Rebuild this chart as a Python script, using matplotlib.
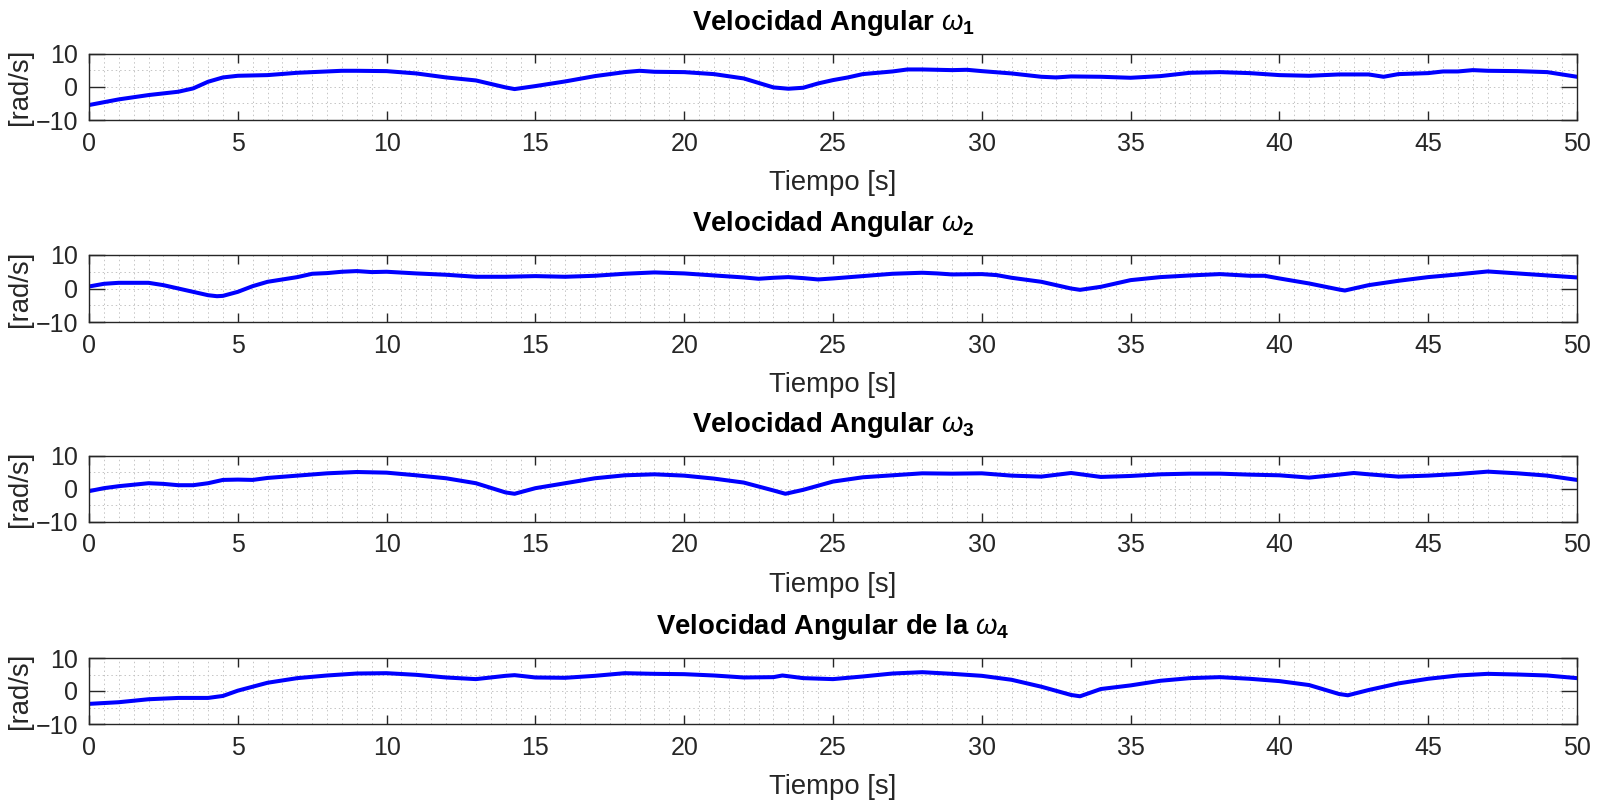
import numpy as np
import matplotlib
matplotlib.use("Agg")
import matplotlib.pyplot as plt
from matplotlib.ticker import MultipleLocator, FixedLocator

plt.rcParams['font.family'] = ['Liberation Sans', 'DejaVu Sans']
plt.rcParams['mathtext.fontset'] = 'custom'
plt.rcParams['mathtext.rm'] = 'Liberation Sans'
plt.rcParams['mathtext.it'] = 'Liberation Sans:italic'
plt.rcParams['mathtext.bf'] = 'Liberation Sans:bold'

# ---------------- data ----------------
t1 = [0, 1, 2, 3, 3.5, 4, 4.5, 5, 6, 7, 8, 8.5, 9, 10, 11, 11.5, 12, 13, 14, 14.3, 15, 16, 17, 18,
      18.5, 19, 20, 21, 22, 23, 23.5, 24, 24.5, 25, 25.5, 26, 26.5, 27, 27.5, 28, 29, 29.5, 30, 31,
      32, 32.5, 33, 34, 35, 36, 37, 38, 39, 40, 41, 42, 43, 43.5, 44, 45, 45.5, 46, 46.5, 47, 48, 49, 50]
w1 = [-5.5, -3.8, -2.5, -1.5, -0.5, 1.5, 2.8, 3.3, 3.5, 4.2, 4.6, 4.8, 4.8, 4.7, 4.0, 3.4, 2.8, 1.9, -0.2, -0.7, 0.2, 1.6, 3.2, 4.4,
      4.8, 4.5, 4.4, 3.8, 2.5, -0.2, -0.6, -0.3, 1.0, 2.0, 2.8, 3.8, 4.2, 4.6, 5.2, 5.2, 5.0, 5.1, 4.7, 4.0,
      3.0, 2.8, 3.1, 3.0, 2.7, 3.2, 4.2, 4.4, 4.1, 3.5, 3.3, 3.7, 3.7, 3.0, 3.8, 4.1, 4.6, 4.6, 5.0, 4.8, 4.7, 4.4, 3.0]

t2 = [0, 0.5, 1, 2, 2.5, 3, 3.5, 4, 4.3, 4.5, 5, 5.5, 6, 7, 7.5, 8, 8.5, 9, 9.5, 10, 11, 12, 13, 14, 15,
      16, 17, 18, 19, 20, 21, 22, 22.5, 23, 23.5, 24, 24.5, 25, 26, 27, 28, 28.5, 29, 30, 30.5, 31, 32,
      33, 33.3, 34, 35, 36, 37, 38, 39, 39.5, 40, 41, 42, 42.2, 43, 44, 45, 46, 47, 48, 49, 50]
w2 = [0.6, 1.4, 1.7, 1.7, 1.0, 0.0, -1.0, -2.0, -2.3, -2.2, -1.0, 0.7, 2.0, 3.4, 4.4, 4.6, 5.0, 5.2, 4.9, 5.0, 4.5, 4.1, 3.5, 3.5, 3.7,
      3.5, 3.8, 4.4, 4.8, 4.5, 3.9, 3.3, 2.9, 3.2, 3.4, 3.1, 2.7, 3.0, 3.7, 4.4, 4.7, 4.5, 4.2, 4.3, 4.0, 3.2, 2.0,
      0.0, -0.4, 0.5, 2.5, 3.4, 3.9, 4.3, 3.8, 3.8, 3.0, 1.5, -0.3, -0.6, 1.0, 2.3, 3.4, 4.2, 5.1, 4.5, 3.9, 3.3]

t3 = [0, 0.5, 1, 2, 2.5, 3, 3.5, 4, 4.5, 5, 5.5, 6, 7, 8, 9, 10, 11, 12, 13, 14, 14.3, 15, 16, 17, 18,
      19, 20, 21, 22, 23, 23.4, 24, 25, 26, 27, 28, 29, 30, 31, 32, 33, 34, 35, 36, 37, 38, 39, 40, 41,
      42, 42.5, 43, 44, 45, 46, 47, 48, 49, 50]
w3 = [-0.8, 0.1, 0.7, 1.6, 1.4, 1.0, 1.0, 1.6, 2.6, 2.7, 2.6, 3.2, 3.9, 4.6, 5.0, 4.8, 4.0, 3.1, 1.6, -1.2, -1.6, 0.1, 1.6, 3.1, 4.0,
      4.3, 3.9, 3.0, 1.8, -0.6, -1.6, -0.4, 2.1, 3.4, 4.0, 4.6, 4.5, 4.6, 3.9, 3.6, 4.7, 3.5, 3.8, 4.3, 4.5, 4.5, 4.2, 4.0, 3.3,
      4.2, 4.7, 4.3, 3.6, 3.9, 4.4, 5.1, 4.6, 3.9, 2.6]

t4 = [0, 1, 2, 3, 4, 4.5, 5, 5.5, 6, 7, 8, 9, 10, 11, 12, 13, 14, 14.3, 15, 16, 17, 18, 19, 20, 21,
      22, 23, 23.3, 24, 25, 26, 27, 28, 29, 30, 31, 32, 33, 33.3, 34, 35, 36, 37, 38, 39, 40, 41, 42,
      42.3, 43, 44, 45, 46, 47, 48, 49, 50]
w4 = [-3.9, -3.4, -2.5, -2.1, -2.1, -1.5, 0.1, 1.3, 2.5, 3.9, 4.7, 5.3, 5.4, 4.9, 4.1, 3.6, 4.6, 4.8, 4.1, 4.0, 4.6, 5.4, 5.2, 5.1, 4.7,
      4.1, 4.2, 4.7, 3.9, 3.6, 4.4, 5.3, 5.7, 5.2, 4.6, 3.4, 1.3, -1.2, -1.6, 0.6, 1.7, 3.1, 3.9, 4.2, 3.7, 3.0, 1.8, -0.9,
      -1.3, 0.3, 2.3, 3.7, 4.7, 5.2, 5.0, 4.7, 3.9]

titles = [r"Velocidad Angular $\omega_\mathbf{1}$",
          r"Velocidad Angular $\omega_\mathbf{2}$",
          r"Velocidad Angular $\omega_\mathbf{3}$",
          r"Velocidad Angular de la $\omega_\mathbf{4}$"]
xlabel = "Tiempo [s]"
ylabel = "[rad/s]"
xticks = [0, 5, 10, 15, 20, 25, 30, 35, 40, 45, 50]
yticks = [-10, 0, 10]

series = [(t1, w1), (t2, w2), (t3, w3), (t4, w4)]

# ---------------- figure ----------------
W, H = 1608, 802
fig = plt.figure(figsize=(W / 100, H / 100), dpi=100)

left_px, right_px = 89, 1577
tops = [53.5, 255, 455.5, 658]
bots = [120, 322, 521.5, 724]

dark = '#262626'
tick_fs = 18
label_fs = 19.8
for i, (tt, ww) in enumerate(series):
    ax = fig.add_axes([left_px / W, 1 - bots[i] / H, (right_px - left_px) / W, (bots[i] - tops[i]) / H])
    ax.plot(tt, ww, color='#0000ff', lw=2.9, solid_joinstyle='round')
    ax.set_xlim(0, 50)
    ax.set_ylim(-10, 10)
    ax.set_xticks(xticks)
    ax.set_yticks(yticks)
    ax.xaxis.set_minor_locator(MultipleLocator(0.5))
    ax.yaxis.set_minor_locator(FixedLocator([-5, 5]))
    ax.grid(which='minor', axis='x', color='#c4c4c4', linestyle=(0, (1.5, 3)), lw=0.7)
    ax.grid(which='both', axis='y', color='#c4c4c4', linestyle=(0, (1.5, 3)), lw=0.7)
    ax.grid(which='major', axis='x', visible=False)
    ax.tick_params(axis='x', which='major', direction='in', length=6.7, width=1.0,
                   top=True, bottom=True, colors=dark, labelsize=tick_fs, pad=8.5)
    ax.tick_params(axis='y', which='major', direction='in', length=11.3, width=1.0,
                   left=True, right=True, colors=dark, labelsize=tick_fs, pad=8)
    ax.tick_params(which='minor', length=0)
    for s in ax.spines.values():
        s.set_color(dark)
        s.set_linewidth(1.0)
    ax.set_xlabel(xlabel, fontsize=label_fs, color=dark, labelpad=10.5)
    ax.set_ylabel(ylabel, fontsize=label_fs, color=dark, labelpad=1.5)
    ax.set_title(titles[i], fontsize=label_fs, fontweight='bold', color='black', pad=17)

fig.savefig('out.png', dpi=100)
